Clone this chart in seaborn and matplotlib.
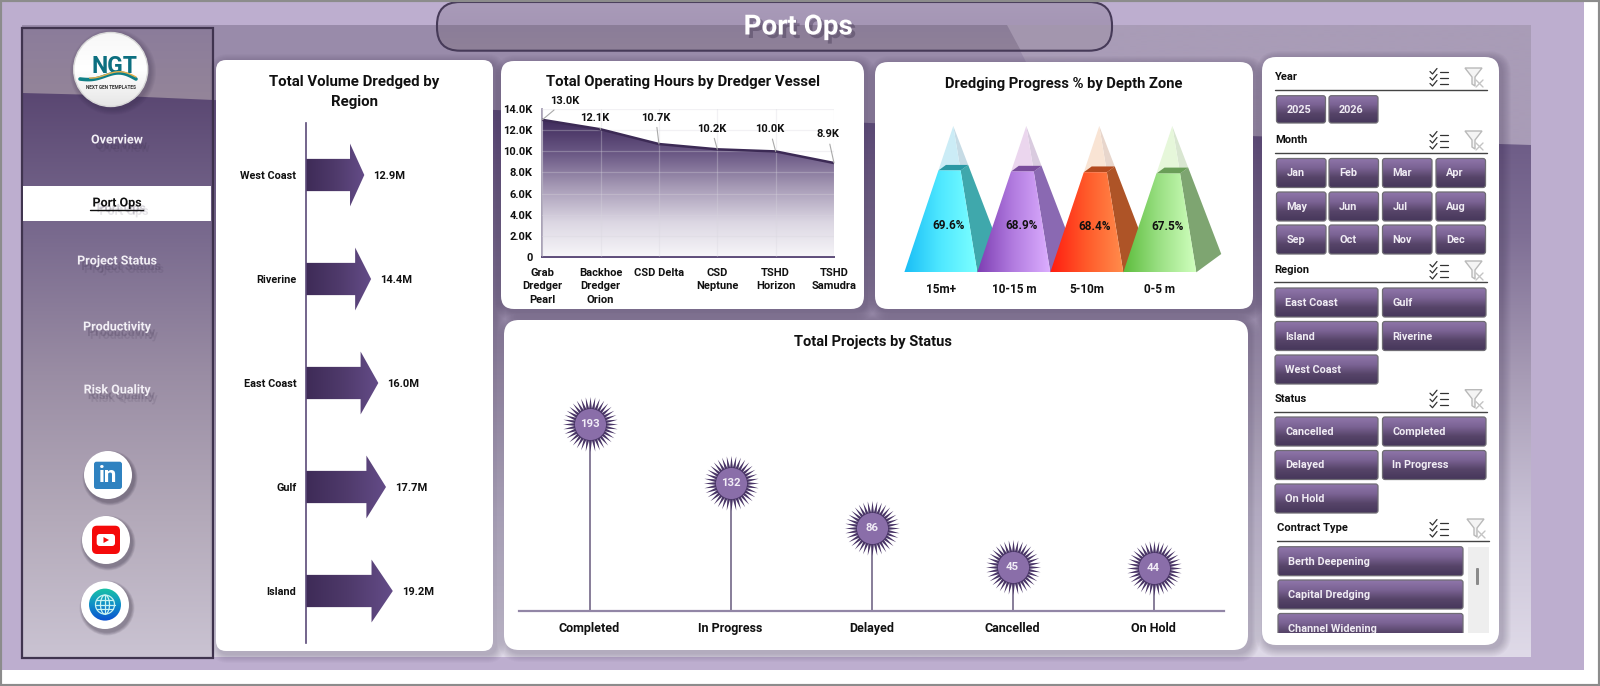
import numpy as np
import pandas as pd
import seaborn as sns
import matplotlib
matplotlib.use("Agg")
import matplotlib.pyplot as plt
import matplotlib.patheffects as pe
from matplotlib.colors import LinearSegmentedColormap
from matplotlib.patches import FancyBboxPatch, Polygon, Circle, Rectangle
from matplotlib.path import Path

# chart values
regions = ["West Coast", "Riverine", "East Coast", "Gulf", "Island"]
volume_m = [12.9, 14.4, 16.0, 17.7, 19.2]

vessels = ["Grab\nDredger\nPearl", "Backhoe\nDredger\nOrion", "CSD Delta", "CSD\nNeptune", "TSHD\nHorizon", "TSHD\nSamudra"]
hours = [13000, 12100, 10700, 10200, 10000, 8900]
hour_ticks = [0, 2000, 4000, 6000, 8000, 10000, 12000, 14000]

depth_zones = ["15m+", "10-15 m", "5-10m", "0-5 m"]
progress_pct = [69.6, 68.9, 68.4, 67.5]

statuses = ["Completed", "In Progress", "Delayed", "Cancelled", "On Hold"]
project_counts = [193, 132, 86, 45, 44]

# navigation and slicer text
nav_items = ["Overview", "Port Ops", "Project Status", "Productivity", "Risk Quality"]
years = ["2025", "2026"]
months = ["Jan", "Feb", "Mar", "Apr", "May", "Jun", "Jul", "Aug", "Sep", "Oct", "Nov", "Dec"]
region_buttons = ["East Coast", "Gulf", "Island", "Riverine", "West Coast"]
status_buttons = ["Cancelled", "Completed", "Delayed", "In Progress", "On Hold"]
contract_buttons = ["Berth Deepening", "Capital Dredging", "Channel Widening"]

W, H = 1600, 686
DARK = "#5b4a78"
TEXT = "#111111"

sns.set_theme(style="white")
plt.rcParams["font.family"] = ["Roboto", "DejaVu Sans"]

fig = plt.figure(figsize=(16, 6.86), dpi=100, facecolor="white")

# whole figure axes in pixel coords for the dashboard furniture
bg = fig.add_axes([0, 0, 1, 1], zorder=0)
bg.set_xlim(0, W)
bg.set_ylim(H, 0)
bg.set_autoscale_on(False)
bg.axis("off")


def px_axes(left, top, right, bottom, z=2):
    ax = fig.add_axes([left / W, 1 - bottom / H, (right - left) / W, (bottom - top) / H], zorder=z)
    ax.patch.set_alpha(0)
    return ax


def gradient(ax, extent, colors, clip=None, horizontal=False, z=1):
    cmap = LinearSegmentedColormap.from_list("g", colors)
    ramp = np.linspace(0, 1, 256)
    ramp = ramp[None, :] if horizontal else ramp[:, None]
    im = ax.imshow(ramp, extent=extent, cmap=cmap, aspect="auto", origin="upper", zorder=z, interpolation="bilinear")
    if clip is not None:
        im.set_clip_path(clip)
    return im


def rounded(x0, y0, x1, y1, r, ax=bg, **kw):
    p = FancyBboxPatch((x0, y0), x1 - x0, y1 - y0, boxstyle=f"round,pad=0,rounding_size={r}", **kw)
    ax.add_patch(p)
    return p


def soft_shadow(x0, y0, x1, y1, r, z=3, size=9, off=3):
    for i in range(size, 0, -1):
        rounded(x0 - i + off, y0 - i + off, x1 + i + off, y1 + i + off, r + i, fc="#2c2040", ec="none", alpha=0.028, zorder=z)


# outer page
bg.add_patch(Rectangle((2, 2), 1582, 668, fc="#BDAECF", ec="none", zorder=0))
bg.add_patch(Rectangle((0, 0), W, H, fc="none", ec="#8c8c8c", lw=3, zorder=20))

# inner band with the wave running through it
wave_x = [22, 213, 495, 870, 1250, 1531]
wave_y = [93, 100, 110, 123, 136, 145]
gradient(bg, (22, 1531, 657, 25), ["#a99cb7", "#a99cb7"], z=1)
dark_top = Polygon([(22, 25), (1007, 25), (1026, 62), (1060, 130), (22, 130)], fc="#998baa", ec="none", zorder=1.1)
bg.add_patch(dark_top)
under = Polygon(list(zip(wave_x, wave_y)) + [(1531, 657), (22, 657)], fc="none", ec="none", zorder=1.2)
bg.add_patch(under)
gradient(bg, (22, 1531, 657, 93), ["#655380", "#7f6f95", "#a79bb5", "#c9c2d6", "#dfdae8"], clip=under, z=1.2)

# sidebar
side_top = Rectangle((22, 27), 191, 630, fc="none", ec="none")
bg.add_patch(side_top)
gradient(bg, (22, 213, 100, 27), ["#8b7c9b", "#948599"], clip=side_top, z=1.5)
side_low = Polygon([(22, 93), (100, 95), (213, 100), (213, 657), (22, 657)], fc="none", ec="none")
bg.add_patch(side_low)
gradient(bg, (22, 213, 657, 93), ["#5a4772", "#796a8e", "#9a8da4", "#b3a9b9", "#cac3d2"], clip=side_low, z=1.6)
bg.add_patch(Rectangle((22, 27.5), 191, 630, fc="none", ec="#40344f", lw=1.6, zorder=1.8))
bg.add_patch(Rectangle((23, 186), 188, 34.5, fc="white", ec="none", zorder=2))

nav_y = [140, 203, 261, 327, 390]
nav_shadow = [pe.SimplePatchShadow(offset=(5, -6), shadow_rgbFace="#3a2e4a", alpha=0.12),
              pe.SimplePatchShadow(offset=(3, -4), shadow_rgbFace="#3a2e4a", alpha=0.22), pe.Normal()]
for name, y in zip(nav_items, nav_y):
    on = name == "Port Ops"
    bg.text(117, y, name, ha="center", va="center", fontsize=9, fontweight="bold",
            color="#111111" if on else "#f2eff5", zorder=2.2, path_effects=nav_shadow)
    if on:
        bg.plot([90, 143], [209.5, 209.5], color="#111111", lw=1, zorder=2.2)

# logo
for i in range(6, 0, -1):
    bg.add_patch(Circle((113, 72), 37 + i, fc="#2c2040", ec="none", alpha=0.05, zorder=2))
logo = Circle((110.7, 69.5), 37, fc="none", ec="#d9d9d9", lw=1, zorder=2.3)
bg.add_patch(logo)
gradient(bg, (73, 148, 107, 32), ["#f7f7f7", "#ffffff", "#e6e6e6"], clip=logo, z=2.2)
bg.text(114.5, 66.5, "NGT", ha="center", va="center", fontsize=16.5, fontweight="bold", color="#0c6f80", zorder=2.5)
sw = np.linspace(80, 136, 30)
bg.plot(sw, 79 - 4 * np.sin((sw - 80) / 56 * np.pi) + 3 * np.sin((sw - 80) / 28 * np.pi), color="#0f7f86", lw=2.6, zorder=2.5)
bg.plot(sw[5:], 77 - 3 * np.sin((sw[5:] - 80) / 56 * np.pi) + 3 * np.sin((sw[5:] - 80) / 28 * np.pi), color="#e8b04c", lw=1, zorder=2.5)
bg.text(111, 87.3, "NEXT GEN TEMPLATES", ha="center", va="center", fontsize=3.4, fontweight="bold", color="#333333", zorder=2.5)

# social buttons
for cx, cy in [(108, 475), (106, 540), (105, 605)]:
    for i in range(5, 0, -1):
        bg.add_patch(Circle((cx + 2, cy + 3), 24 + i * 0.7, fc="#20182c", ec="none", alpha=0.08, zorder=2))
    bg.add_patch(Circle((cx, cy), 24, fc="white", ec="none", zorder=2.2))
rounded(94, 461.7, 122, 489, 2.5, fc="#2f82c0", ec="none", zorder=2.4)
bg.text(108, 476, "in", ha="center", va="center", fontsize=16, fontweight="bold", color="white", zorder=2.5)
rounded(92, 525.7, 120, 554, 5, fc="#f50a0a", ec="none", zorder=2.4)
rounded(96.7, 534, 115, 546, 3, fc="white", ec="none", zorder=2.5)
bg.add_patch(Polygon([(103.5, 537), (103.5, 543), (109, 540)], fc="#f50a0a", ec="none", zorder=2.6))
globe = Circle((105, 604.6), 16, fc="none", ec="none")
bg.add_patch(globe)
gradient(bg, (89, 121, 621, 588), ["#18c4a4", "#0f8fc8", "#0a4fd0"], clip=globe, z=2.4)
for r_x, r_y in [(9.5, 9.5), (4.5, 9.5)]:
    t = np.linspace(0, 2 * np.pi, 60)
    bg.plot(105 + r_x * np.cos(t), 604.6 + r_y * np.sin(t), color="#c8f3f2", lw=0.9, zorder=2.6)
for dy in [-4.5, 0, 4.5]:
    half = np.sqrt(9.5 ** 2 - dy ** 2)
    bg.plot([105 - half, 105 + half], [604.6 + dy] * 2, color="#c8f3f2", lw=0.9, zorder=2.6)
bg.plot([105, 105], [595, 614], color="#c8f3f2", lw=0.9, zorder=2.6)

# title pill
pill = rounded(437, 2, 1112, 50.7, 23, fc="none", ec="#463a58", lw=1.5, zorder=2.8)
gradient(bg, (437, 1112, 25, 2), ["#a99bb9", "#a596b5"], clip=pill, z=2.5)
gradient(bg, (437, 1112, 51, 25), ["#8b7d98", "#8f8199"], clip=pill, z=2.5)
light = Polygon([(1007, 25), (1112, 25), (1112, 51), (1021, 51)], fc="#a396ae", ec="none", zorder=2.6)
bg.add_patch(light)
light.set_clip_path(pill)
bg.text(798, 27, "Port Ops", ha="center", va="center", fontsize=20, fontweight="bold", color="white", zorder=3,
        path_effects=[pe.SimplePatchShadow(offset=(2.5, -2.5), shadow_rgbFace="#40344f", alpha=0.4), pe.Normal()])

# white cards
cards = [(216, 60, 493, 651, 10), (501, 61, 864, 309, 13), (875, 62, 1253, 309, 13),
         (504, 320, 1248, 650, 15), (1262, 57, 1499, 645, 14)]
for x0, y0, x1, y1, r in cards:
    soft_shadow(x0, y0, x1, y1, r)
for x0, y0, x1, y1, r in cards:
    rounded(x0, y0, x1, y1, r, fc="white", ec="none", zorder=4)

bg.text(354.5, 92, "Total Volume Dredged by\nRegion", ha="center", va="center", fontsize=10.8, fontweight="bold",
        color=TEXT, linespacing=1.55, zorder=5)
bg.text(683, 82, "Total Operating Hours by Dredger Vessel", ha="center", va="center", fontsize=10.7, fontweight="bold", color=TEXT, zorder=5)
bg.text(1064, 84, "Dredging Progress % by Depth Zone", ha="center", va="center", fontsize=10.6, fontweight="bold", color=TEXT, zorder=5)
bg.text(872.5, 342, "Total Projects by Status", ha="center", va="center", fontsize=10.5, fontweight="bold", color=TEXT, zorder=5)


# slicers
def slicer_header(name, x, y, line_x0, line_x1, line_y):
    bg.text(x, y, name, ha="left", va="center", fontsize=8, fontweight="bold", color=TEXT, zorder=5)
    bg.plot([line_x0, line_x1], [line_y, line_y], color="#444444", lw=1, zorder=5)
    ix = line_x1 - 57 if name != "Contract Type" else line_x1 - 59
    for k, dy in enumerate([-6, 0, 6]):
        yy = y + dy + 0.5
        bg.plot([ix, ix + 2.5, ix + 7], [yy, yy + 2.5, yy - 3], color="#333333", lw=0.9, zorder=5)
        bg.plot([ix + 10, ix + 18], [yy, yy], color="#333333", lw=0.9, zorder=5)
    fx = line_x1 - 22
    bg.add_patch(Polygon([(fx, y - 9), (fx + 17, y - 9), (fx + 10, y), (fx + 10, y + 9), (fx + 7, y + 7), (fx + 7, y)],
                         fc="#f4f4f4", ec="#b9b9b9", lw=1, zorder=5))
    bg.plot([fx + 11, fx + 18], [y + 3, y + 10], color="#c4c4c4", lw=1, zorder=5.1)
    bg.plot([fx + 11, fx + 18], [y + 10, y + 3], color="#c4c4c4", lw=1, zorder=5.1)


def button(label, x0, y0, x1, y1, clip_y=None):
    box = rounded(x0, y0, x1, y1, 2.5, fc="none", ec="#6f6c74", lw=0.9, zorder=5.3)
    gradient(bg, (x0, x1, y1, y0), ["#9077ab", "#7b6394", "#564468", "#46375b"], clip=box, z=5.2)
    bg.text(x0 + 10, (y0 + y1) / 2 + 0.5, label, ha="left", va="center", fontsize=7.8, fontweight="bold", color="#f0ecf4", zorder=5.5)
    if clip_y is not None:
        bg.add_patch(Rectangle((x0 - 3, clip_y), x1 - x0 + 6, y1 - clip_y + 1.2, fc="white", ec="none", zorder=5.6))


slicer_header("Year", 1275, 77, 1275, 1487, 90.3)
for lab, x0 in zip(years, [1276.5, 1329]):
    button(lab, x0, 95.7, x0 + 49, 123)

slicer_header("Month", 1275.5, 140, 1275, 1487, 153.3)
month_x = [1276.5, 1329, 1382.5, 1436]
month_y = [158.5, 192, 225]
for i, lab in enumerate(months):
    x0 = month_x[i % 4]
    y0 = month_y[i // 4]
    button(lab, x0, y0, x0 + 49.5, y0 + 29)

slicer_header("Region", 1274.5, 270, 1274, 1487, 282)
two_x = [(1275, 1378), (1382.5, 1486)]
for i, lab in enumerate(region_buttons):
    x0, x1 = two_x[i % 2]
    y0 = [288, 321.5, 355][i // 2]
    button(lab, x0, y0, x1, y0 + 29)

slicer_header("Status", 1274.5, 398.7, 1274, 1487, 411.7)
for i, lab in enumerate(status_buttons):
    x0, x1 = two_x[i % 2]
    y0 = [417, 450.5, 484][i // 2]
    button(lab, x0, y0, x1, y0 + 29)

slicer_header("Contract Type", 1277, 528, 1277, 1489, 541.3)
for lab, y0 in zip(contract_buttons, [546.7, 580, 613.5]):
    button(lab, 1278, y0, 1463, y0 + 29, clip_y=632.7 if lab == "Channel Widening" else None)
bg.add_patch(Rectangle((1467.5, 546.7), 21.5, 86, fc="#eeeeee", ec="none", zorder=5))
rounded(1476, 568, 1479, 585, 1, fc="#8a8a8a", ec="none", zorder=5.1)

# ---- volume by region: arrows grown from a seaborn bar plot ----
ax1 = px_axes(306, 123, 480, 643)
df_vol = pd.DataFrame({"region": regions, "volume": volume_m})
sns.barplot(data=df_vol, x="volume", y="region", orient="h", width=0.31, color=DARK, ax=ax1)
ax1.set_xlim(0, 174 / 4.52)
ax1.set_ylim(4.5, -0.5)
ax1.set_autoscale_on(False)
for bar, val in zip(ax1.patches, volume_m):
    bar.set_visible(False)
    yc = bar.get_y() + bar.get_height() / 2
    half = bar.get_height() / 2
    neck = bar.get_width() * 0.755
    arrow = Polygon([(0, yc - half), (neck, yc - half), (neck, yc - half * 1.95), (bar.get_width(), yc),
                     (neck, yc + half * 1.95), (neck, yc + half), (0, yc + half)], fc="none", ec="none")
    ax1.add_patch(arrow)
    gradient(ax1, (0, bar.get_width(), yc + 0.4, yc - 0.4), ["#3e2b57", "#4f3a6b", "#644c88"], clip=arrow, horizontal=True)
    ax1.annotate(f"{val:.1f}M", (bar.get_width(), yc), xytext=(9, -1), textcoords="offset pixels", ha="left", va="center",
                 fontsize=8, fontweight="bold", color=TEXT)
ax1.set_xlabel("")
ax1.set_ylabel("")
ax1.set_xticks([])
ax1.tick_params(axis="y", length=0, pad=7, labelsize=7.8, labelcolor=TEXT)
for lab in ax1.get_yticklabels():
    lab.set_fontweight("bold")
sns.despine(ax=ax1, left=False, bottom=True)
ax1.spines["left"].set_color(DARK)
ax1.spines["left"].set_linewidth(1.2)

# ---- operating hours: area under a line ----
ax2 = px_axes(542.3, 109.3, 834, 256.7)
df_hours = pd.DataFrame({"vessel": vessels, "hours": hours})
sns.lineplot(data=df_hours, x="vessel", y="hours", sort=False, color="#3c2a55", lw=1.8, ax=ax2, zorder=4)
ax2.set_xlim(0, len(vessels) - 1)
ax2.set_ylim(0, 14000)
ax2.set_autoscale_on(False)
area = Polygon([(0, 0)] + list(zip(range(len(hours)), hours)) + [(len(hours) - 1, 0)], fc="none", ec="none")
ax2.add_patch(area)
gradient(ax2, (0, len(hours) - 1, 0, max(hours)), ["#3f2b5c", "#6c5a86", "#a99db8", "#dcd7e3", "#f7f6f9"], clip=area)
ax2.set_yticks(hour_ticks)
ax2.set_yticklabels(["0" if v == 0 else f"{v / 1000:.1f}K" for v in hour_ticks])
ax2.set_axisbelow(False)
ax2.grid(True, color="#d8d6de", lw=0.9, alpha=0.32)
ax2.set_xlabel("")
ax2.set_ylabel("")
ax2.tick_params(axis="both", length=3, width=0.9, color="#8a7fa0", labelsize=8, labelcolor=TEXT, pad=4)
ax2.tick_params(axis="x", pad=5)
for lab in ax2.get_xticklabels() + ax2.get_yticklabels():
    lab.set_fontweight("bold")
for lab in ax2.get_xticklabels():
    lab.set_linespacing(1.42)
for side in ["top", "right"]:
    ax2.spines[side].set_visible(False)
ax2.spines["bottom"].set_color(DARK)
ax2.spines["bottom"].set_linewidth(1.4)
ax2.spines["left"].set_color("#9c94ac")
hour_label_offsets = [(22.7, 19), (-5.7, 11), (-3.3, 26.3), (-5.7, 20.6), (-5.8, 22), (-6.3, 28.5)]
for i, (val, off) in enumerate(zip(hours, hour_label_offsets)):
    ax2.annotate(f"{val / 1000:.1f}K", (i, val), xytext=off, textcoords="offset pixels", ha="center", va="center",
                 fontsize=8, fontweight="bold", color=TEXT, annotation_clip=False, zorder=6,
                 arrowprops=dict(arrowstyle="-", color="#a9a9a9", lw=0.8, shrinkA=1, shrinkB=0))

# ---- progress by depth zone: pyramids on a category axis ----
ax3 = px_axes(904.3, 126, 1196.3, 272.3)
df_prog = pd.DataFrame({"zone": depth_zones, "progress": progress_pct})
sns.barplot(data=df_prog, x="zone", y="progress", width=1.0, color="#999999", ax=ax3)
ax3.set_xlim(-0.5, 3.5)
ax3.set_ylim(0, 100)
ax3.set_autoscale_on(False)
front_cols = [["#19bdf6", "#4fe8ff", "#7cffff"], ["#7d3eb2", "#b27ce0", "#dcaeff"],
              ["#ff1c10", "#ff5a2a", "#ff8c4c"], ["#5cbc3c", "#9be084", "#d0ffbe"]]
side_cols = ["#3fa8ac", "#8a69b2", "#ae5427", "#7ea571"]
cap_cols = ["#2a98a4", "#7a4d9c", "#b34a1e", "#6a9e58"]
ghost_front = ["#cbecf6", "#ebd6ee", "#f9e4d4", "#e6f7da"]
ghost_side = ["#c6dbe5", "#d9cbdf", "#e8d6cc", "#d9e6d1"]
dep_x, dep_y = 0.342, 12.5
for i, bar in enumerate(ax3.patches):
    bar.set_visible(False)
    cx = bar.get_x() + bar.get_width() / 2
    t = bar.get_height() / 100
    apex = np.array([cx + dep_x / 2, 100.0])
    fl = np.array([cx - 0.5, 0.0])
    fr = np.array([cx + 0.5, 0.0])
    br = fr + [dep_x, dep_y]
    bl = fl + [dep_x, dep_y]
    at = lambda p: p + t * (apex - p)
    z = 2 + i
    ax3.add_patch(Polygon([at(fr), at(br), apex], fc=ghost_side[i], ec="none", zorder=z))
    ax3.add_patch(Polygon([at(fl), at(fr), apex], fc=ghost_front[i], ec="none", zorder=z + 0.1))
    ax3.add_patch(Polygon([fr, br, at(br), at(fr)], fc=side_cols[i], ec="none", zorder=z + 0.2, clip_on=False))
    ax3.add_patch(Polygon([at(fl), at(fr), at(br), at(bl)], fc=cap_cols[i], ec="none", zorder=z + 0.3))
    face = Polygon([fl, fr, at(fr), at(fl)], fc="none", ec="none", zorder=z + 0.4)
    ax3.add_patch(face)
    gradient(ax3, (cx - 0.5, cx + 0.5, 0, at(fl)[1]), front_cols[i], clip=face, horizontal=True, z=z + 0.4)
    ax3.text(cx + 0.11, bar.get_height() * 0.46, f"{progress_pct[i]:.1f}%", ha="center", va="center",
             fontsize=8.5, fontweight="bold", color=TEXT, zorder=10)
ax3.set_xlabel("")
ax3.set_ylabel("")
ax3.set_yticks([])
ax3.tick_params(axis="x", length=0, pad=8, labelsize=8.5, labelcolor=TEXT)
for lab in ax3.get_xticklabels():
    lab.set_fontweight("bold")
sns.despine(ax=ax3, left=True, bottom=True)

# ---- projects by status: lollipops with a burst head ----
ax4 = px_axes(519, 370, 1224, 610.7)
df_status = pd.DataFrame({"status": statuses, "projects": project_counts})
sns.barplot(data=df_status, x="status", y="projects", width=0.018, color="#6d5c88", ax=ax4, zorder=2)
n_spikes = 36
ang = np.linspace(0, 2 * np.pi, 2 * n_spikes, endpoint=False)
rad = np.where(np.arange(2 * n_spikes) % 2 == 0, 1.0, 0.58)
star_verts = np.column_stack([rad * np.sin(ang), rad * np.cos(ang)])
star_path = Path(np.vstack([star_verts, star_verts[0]]), closed=True)
sns.scatterplot(data=df_status, x="status", y="projects", marker=star_path, s=1570, color="#4a3667", linewidth=0, ax=ax4, zorder=3)
sns.scatterplot(data=df_status, x="status", y="projects", marker="o", s=500, color="#8a6ea9", linewidth=0, ax=ax4, zorder=4)
ax4.set_xlim(-0.5, 4.5)
ax4.set_ylim(0, 249)
for i, val in enumerate(project_counts):
    ax4.text(i, val, str(val), ha="center", va="center", fontsize=8.2, fontweight="bold", color="#f1ecf6", zorder=5)
ax4.set_xlabel("")
ax4.set_ylabel("")
ax4.set_yticks([])
ax4.tick_params(axis="x", length=0, pad=8, labelsize=9, labelcolor=TEXT)
for lab in ax4.get_xticklabels():
    lab.set_fontweight("bold")
sns.despine(ax=ax4, left=True)
ax4.spines["bottom"].set_color("#9286a6")
ax4.spines["bottom"].set_linewidth(1.6)

fig.savefig("out.png", dpi=100, facecolor="white")
